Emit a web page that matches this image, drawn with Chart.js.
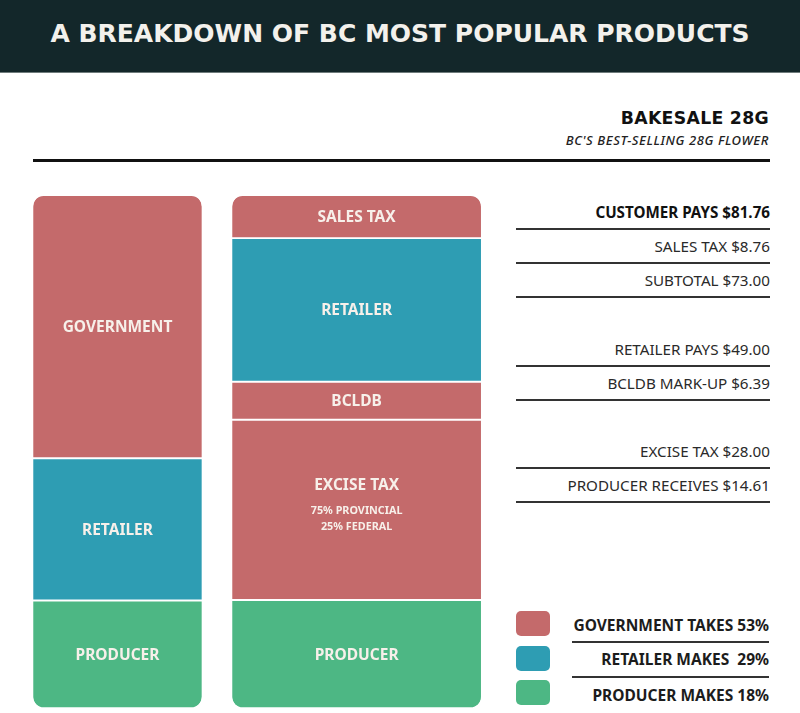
<!DOCTYPE html>
<html>
<head>
<meta charset="utf-8">
<script src="https://cdn.jsdelivr.net/npm/chart.js@4/dist/chart.umd.min.js"></script>
<style>
    html, body { margin: 0; padding: 0; background: #fff; }
    body { width: 800px; height: 713px; position: relative; overflow: hidden; font-family: "Noto Sans", sans-serif; }
    #banner {
        position: absolute; left: 0; top: 0; width: 800px; height: 73px;
        background: #13272a; border-bottom: 1px solid #6f7c7c;
        color: #f3f1ec; font: bold 25px "DejaVu Sans", sans-serif; letter-spacing: 0;
        display: flex; align-items: center; justify-content: center; padding-bottom: 6px; box-sizing: border-box;
    }
    #product { position: absolute; right: 31px; top: 108px; font: bold 17.3px "DejaVu Sans", sans-serif; color: #111; letter-spacing: 0.3px; }
    #tagline { position: absolute; right: 31px; top: 131px; font: italic 500 13px "Noto Sans", sans-serif; color: #222; letter-spacing: 0.6px; }
    #rule { position: absolute; left: 33px; top: 159px; width: 737px; height: 3px; background: #111; }
    #wrap { position: absolute; left: -10px; top: 0; width: 500px; height: 713px; }
    #steps { position: absolute; left: 516px; top: 196px; width: 254px; }
    .step { height: 34.15px; box-sizing: border-box; display: flex; align-items: center; justify-content: flex-end;
            font-size: 15.2px; color: #2a2a2a; }
    .step.ruled { border-bottom: 2px solid #333; }
    .step.strong { font-weight: bold; color: #111; }
    .swatch { position: absolute; left: 516px; width: 34px; height: 25px; border-radius: 5px; }
    .key { position: absolute; left: 572px; width: 197px; height: 34.5px; box-sizing: border-box;
           display: flex; align-items: center; justify-content: flex-end; white-space: pre;
           font-weight: bold; font-size: 15.5px; color: #1c1c1c; }
    .key.ruled { border-bottom: 2px solid #333; }
</style>
</head>
<body>
<div id="banner">A BREAKDOWN OF BC MOST POPULAR PRODUCTS</div>
<div id="product">BAKESALE 28G</div>
<div id="tagline">BC'S BEST-SELLING 28G FLOWER</div>
<div id="rule"></div>
<div id="wrap"><canvas id="chart_bar"></canvas></div>
<div id="steps"></div>
<div id="legend"></div>

<script>
// two columns: who gets the money / where it goes
var columns = ["Share", "Breakdown"];

// left column, bottom to top (share of the drawn height, %)
var shareLabels = ["PRODUCER", "RETAILER", "GOVERNMENT"];
var shareValues = [21.0, 27.7, 51.3];

// right column, bottom to top
var partLabels = ["PRODUCER", "EXCISE TAX", "BCLDB", "RETAILER", "SALES TAX"];
var partValues = [21.1, 35.1, 7.4, 28.0, 8.4];
var exciseNote = ["75% PROVINCIAL", "25% FEDERAL"];

// price steps on the right (null = blank row)
var stepLabels = ["CUSTOMER PAYS", "SALES TAX", "SUBTOTAL", null, "RETAILER PAYS", "BCLDB MARK-UP", null, "EXCISE TAX", "PRODUCER RECEIVES"];
var stepAmounts = [81.76, 8.76, 73.00, null, 49.00, 6.39, null, 28.00, 14.61];

// legend
var legendLabels = ["GOVERNMENT TAKES", "RETAILER MAKES ", "PRODUCER MAKES"];
var legendPercents = [53, 29, 18];

var RED = "#c46a6b", TEAL = "#2e9db3", GREEN = "#4db784";
var shareColors = [GREEN, TEAL, RED];
var partColors = [GREEN, RED, RED, TEAL, RED];
var legendColors = [RED, TEAL, GREEN];

function radiusFor(i, n) {
    if (i === 0) return { topLeft: 0, topRight: 0, bottomLeft: 12, bottomRight: 12 };
    if (i === n - 1) return { topLeft: 12, topRight: 12, bottomLeft: 0, bottomRight: 0 };
    return 0;
}

function each(arr, fn) { for (var i = 0; i < arr.length; i++) fn(i, arr[i]); }

var datasets = [];
each(shareValues, function(i, v) {
    datasets.push({
        label: shareLabels[i],
        data: [v, null],
        backgroundColor: shareColors[i],
        barThickness: 168.4,
        clip: false,
        borderRadius: radiusFor(i, shareValues.length)
    });
});
each(partValues, function(i, v) {
    datasets.push({
        label: partLabels[i],
        data: [null, v],
        backgroundColor: partColors[i],
        barThickness: 248.7,
        clip: false,
        borderRadius: radiusFor(i, partValues.length),
        note: partLabels[i] === "EXCISE TAX" ? exciseNote : null
    });
});

var barText = {
    id: 'barText',
    afterDatasetsDraw: function(chart) {
        var ctx = chart.ctx;
        ctx.save();
        ctx.fillStyle = "#f7f0ea";
        ctx.textAlign = "center";
        ctx.textBaseline = "middle";
        chart.data.datasets.forEach(function(ds, di) {
            var meta = chart.getDatasetMeta(di);
            ds.data.forEach(function(v, idx) {
                if (v === null) return;
                var el = meta.data[idx];
                var cy = (el.y + el.base) / 2;
                ctx.font = "bold 15.5px 'Noto Sans'";
                if (ds.note) {
                    ctx.fillText(ds.label, el.x, cy - 24);
                    ctx.font = "bold 10.8px 'Noto Sans'";
                    ctx.fillText(ds.note[0], el.x, cy + 1);
                    ctx.fillText(ds.note[1], el.x, cy + 17);
                } else {
                    ctx.fillText(ds.label, el.x, cy + 1);
                }
            });
        });
        ctx.restore();
    }
};

var canvas = document.getElementById('chart_bar').getContext('2d');
window.bar = new Chart(canvas, {
    type: "bar",
    data: { labels: columns, datasets: datasets },
    options: {
        responsive: true,
        maintainAspectRatio: false,
        animation: false,
        layout: { padding: { top: 195, bottom: 4.7, left: 7.9, right: 13.8 } },
        elements: {
            bar: {
                borderColor: "#ffffff",
                borderWidth: { top: 1.3, bottom: 1.3, left: 0, right: 0 },
                borderSkipped: false
            }
        },
        scales: {
            x: { display: false, stacked: true },
            y: { display: false, stacked: true, min: 0, max: 100 }
        },
        plugins: { legend: { display: false }, tooltip: { enabled: false } }
    },
    plugins: [barText]
});

// price steps list
var steps = document.getElementById('steps');
each(stepLabels, function(i, lab) {
    var row = document.createElement('div');
    row.className = 'step';
    if (lab !== null) {
        row.className += ' ruled' + (i === 0 ? ' strong' : '');
        row.textContent = lab + ' $' + stepAmounts[i].toFixed(2);
    }
    steps.appendChild(row);
});

// legend
var legend = document.getElementById('legend');
each(legendLabels, function(i, lab) {
    var sw = document.createElement('div');
    sw.className = 'swatch';
    sw.style.top = (611 + 34.5 * i) + 'px';
    sw.style.background = legendColors[i];
    legend.appendChild(sw);
    var k = document.createElement('div');
    k.className = 'key' + (i < legendLabels.length - 1 ? ' ruled' : '');
    k.style.top = (608.5 + 34.5 * i) + 'px';
    k.textContent = lab + ' ' + legendPercents[i] + '%';
    legend.appendChild(k);
});
</script>
</body>
</html>
